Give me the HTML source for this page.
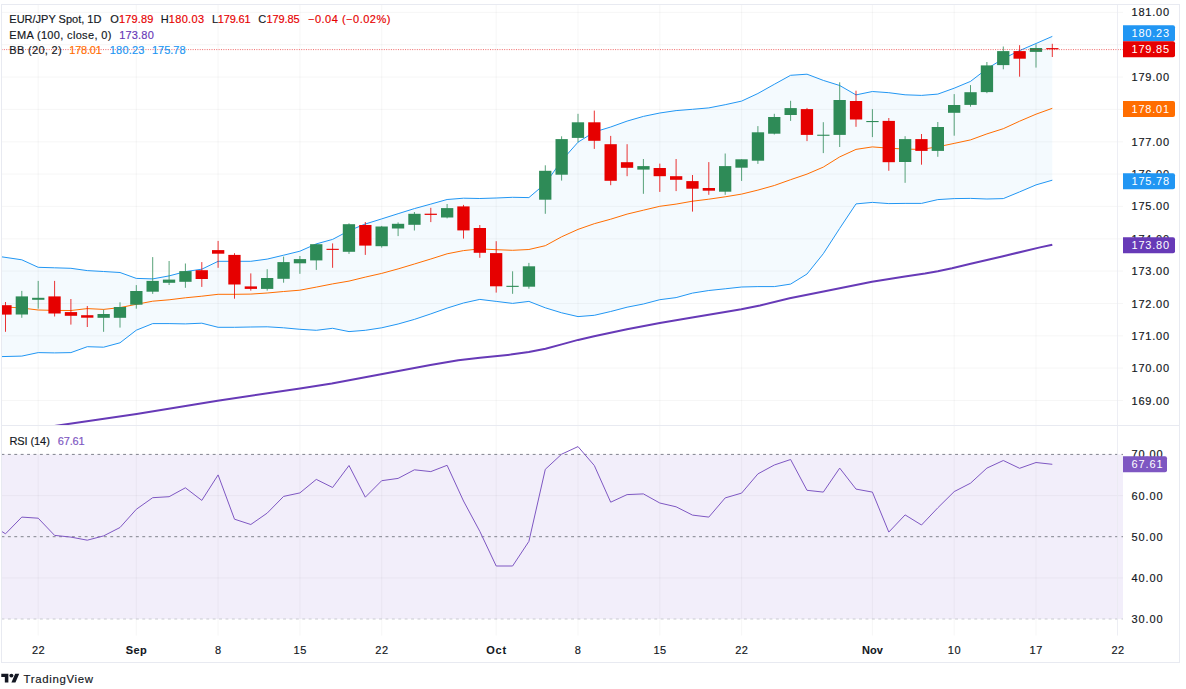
<!DOCTYPE html>
<html lang="en"><head><meta charset="utf-8"><title>EUR/JPY Spot, 1D</title>
<style>html,body{margin:0;padding:0;background:#fff;overflow:hidden}svg{display:block;font-family:"Liberation Sans",sans-serif}text{font-size:11px;fill:#131722;stroke:#131722;stroke-width:.16px}.b{font-weight:bold;stroke-width:.08px}.w{fill:#fff;stroke:none}</style></head><body>
<svg width="1186" height="689" viewBox="0 0 1186 689">
<rect width="1186" height="689" fill="#fff"/>
<defs><clipPath id="cm"><rect x="1.5" y="4.5" width="1116.0" height="421.0"/></clipPath><clipPath id="cr"><rect x="1.5" y="425.5" width="1116.0" height="210.0"/></clipPath></defs>
<rect x="1.5" y="454.4" width="1121.5" height="164.6" fill="#f2eefa"/>
<path d="M38.2 4.5V635.5M136.3 4.5V635.5M218.1 4.5V635.5M299.9 4.5V635.5M381.7 4.5V635.5M496.2 4.5V635.5M578.0 4.5V635.5M659.8 4.5V635.5M741.6 4.5V635.5M872.4 4.5V635.5M954.2 4.5V635.5M1036.0 4.5V635.5M1.5 400.5H1123M1.5 368.1H1123M1.5 335.8H1123M1.5 303.5H1123M1.5 271.1H1123M1.5 238.8H1123M1.5 206.4H1123M1.5 174.1H1123M1.5 141.8H1123M1.5 109.4H1123M1.5 77.1H1123M1.5 44.7H1123M1.5 12.4H1123M1.5 577.9H1123M1.5 495.6H1123" stroke="#2a2e39" stroke-opacity="0.045" stroke-width="1" fill="none"/>
<g clip-path="url(#cm)">
<polygon points="1.5,256.8 21.8,259.8 38.2,267.3 54.6,267.8 70.9,268.3 87.3,270.6 103.6,271.5 120.0,272.5 136.3,278.4 152.7,278.9 169.1,275.9 185.4,271.6 201.8,269.2 218.1,261.3 234.5,261.3 250.8,261.3 267.2,259.1 283.6,255.2 299.9,251.2 316.3,243.9 332.6,239.4 349.0,230.7 365.3,224.0 381.7,218.9 398.1,213.7 414.4,208.6 430.8,204.1 447.1,199.5 463.5,198.2 479.8,198.5 496.2,198.0 512.6,197.3 528.9,197.6 545.3,183.6 561.6,160.7 578.0,142.2 594.3,132.0 610.7,127.0 627.1,121.1 643.4,116.4 659.8,113.0 676.1,110.6 692.5,109.3 708.8,107.9 725.2,104.7 741.6,101.1 757.9,93.5 774.3,84.3 790.6,75.3 807.0,74.2 823.3,80.4 839.7,85.5 856.0,94.9 872.4,91.5 888.8,92.7 905.1,94.8 921.5,95.4 937.8,94.1 954.2,88.2 970.5,81.4 986.9,68.8 1003.3,58.7 1019.6,50.6 1036.0,43.5 1052.3,36.4 1052.3,180.2 1036.0,184.9 1019.6,191.9 1003.3,198.6 986.9,199.0 970.5,198.4 954.2,198.6 937.8,199.6 921.5,203.4 905.1,203.4 888.8,203.6 872.4,202.4 856.0,203.9 839.7,228.4 823.3,253.7 807.0,274.0 790.6,284.1 774.3,286.6 757.9,286.6 741.6,287.0 725.2,288.8 708.8,290.5 692.5,293.1 676.1,297.6 659.8,299.7 643.4,304.0 627.1,307.2 610.7,311.5 594.3,315.3 578.0,316.6 561.6,312.8 545.3,307.8 528.9,301.4 512.6,303.4 496.2,301.4 479.8,299.4 463.5,303.0 447.1,308.1 430.8,313.9 414.4,319.4 398.1,324.0 381.7,327.8 365.3,330.3 349.0,331.6 332.6,328.3 316.3,330.3 299.9,329.3 283.6,327.8 267.2,326.8 250.8,327.0 234.5,327.3 218.1,327.3 201.8,323.2 185.4,323.9 169.1,323.6 152.7,323.6 136.3,330.2 120.0,342.8 103.6,347.2 87.3,346.7 70.9,352.6 54.6,352.9 38.2,352.6 21.8,356.1 1.5,356.6" fill="#2196f3" fill-opacity="0.05"/>
<polyline points="1.5,306.7 21.8,308.0 38.2,310.0 54.6,310.4 70.9,310.5 87.3,308.6 103.6,309.4 120.0,307.6 136.3,304.3 152.7,301.2 169.1,299.8 185.4,297.8 201.8,296.2 218.1,294.3 234.5,294.3 250.8,294.1 267.2,293.0 283.6,291.5 299.9,290.2 316.3,287.1 332.6,283.9 349.0,281.1 365.3,277.1 381.7,273.4 398.1,268.9 414.4,264.0 430.8,259.0 447.1,253.8 463.5,250.6 479.8,248.9 496.2,249.7 512.6,250.3 528.9,249.5 545.3,245.7 561.6,236.8 578.0,229.4 594.3,223.7 610.7,219.2 627.1,214.1 643.4,210.2 659.8,206.3 676.1,204.1 692.5,201.2 708.8,199.2 725.2,196.8 741.6,194.1 757.9,190.1 774.3,185.5 790.6,179.7 807.0,174.1 823.3,167.1 839.7,156.9 856.0,149.4 872.4,146.9 888.8,148.2 905.1,149.1 921.5,149.4 937.8,146.8 954.2,143.4 970.5,139.9 986.9,133.9 1003.3,128.7 1019.6,121.2 1036.0,114.2 1052.3,108.3" fill="none" stroke="#ff6d00" stroke-width="1" stroke-linejoin="round"/>
<polyline points="1.5,256.8 21.8,259.8 38.2,267.3 54.6,267.8 70.9,268.3 87.3,270.6 103.6,271.5 120.0,272.5 136.3,278.4 152.7,278.9 169.1,275.9 185.4,271.6 201.8,269.2 218.1,261.3 234.5,261.3 250.8,261.3 267.2,259.1 283.6,255.2 299.9,251.2 316.3,243.9 332.6,239.4 349.0,230.7 365.3,224.0 381.7,218.9 398.1,213.7 414.4,208.6 430.8,204.1 447.1,199.5 463.5,198.2 479.8,198.5 496.2,198.0 512.6,197.3 528.9,197.6 545.3,183.6 561.6,160.7 578.0,142.2 594.3,132.0 610.7,127.0 627.1,121.1 643.4,116.4 659.8,113.0 676.1,110.6 692.5,109.3 708.8,107.9 725.2,104.7 741.6,101.1 757.9,93.5 774.3,84.3 790.6,75.3 807.0,74.2 823.3,80.4 839.7,85.5 856.0,94.9 872.4,91.5 888.8,92.7 905.1,94.8 921.5,95.4 937.8,94.1 954.2,88.2 970.5,81.4 986.9,68.8 1003.3,58.7 1019.6,50.6 1036.0,43.5 1052.3,36.4" fill="none" stroke="#2196f3" stroke-width="1" stroke-linejoin="round"/>
<polyline points="1.5,356.6 21.8,356.1 38.2,352.6 54.6,352.9 70.9,352.6 87.3,346.7 103.6,347.2 120.0,342.8 136.3,330.2 152.7,323.6 169.1,323.6 185.4,323.9 201.8,323.2 218.1,327.3 234.5,327.3 250.8,327.0 267.2,326.8 283.6,327.8 299.9,329.3 316.3,330.3 332.6,328.3 349.0,331.6 365.3,330.3 381.7,327.8 398.1,324.0 414.4,319.4 430.8,313.9 447.1,308.1 463.5,303.0 479.8,299.4 496.2,301.4 512.6,303.4 528.9,301.4 545.3,307.8 561.6,312.8 578.0,316.6 594.3,315.3 610.7,311.5 627.1,307.2 643.4,304.0 659.8,299.7 676.1,297.6 692.5,293.1 708.8,290.5 725.2,288.8 741.6,287.0 757.9,286.6 774.3,286.6 790.6,284.1 807.0,274.0 823.3,253.7 839.7,228.4 856.0,203.9 872.4,202.4 888.8,203.6 905.1,203.4 921.5,203.4 937.8,199.6 954.2,198.6 970.5,198.4 986.9,199.0 1003.3,198.6 1019.6,191.9 1036.0,184.9 1052.3,180.2" fill="none" stroke="#2196f3" stroke-width="1" stroke-linejoin="round"/>
<polyline points="1.5,434.0 54.4,426.0 136.6,414.1 217.6,400.7 300.0,388.5 331.8,383.5 381.1,374.3 430.4,365.0 458.3,360.2 480.0,357.8 510.6,354.6 528.8,352.0 545.5,348.7 561.7,344.4 578.1,339.9 594.1,336.3 627.0,329.3 659.8,322.9 692.2,317.6 725.1,311.9 741.3,309.3 760.0,305.5 789.6,298.3 823.5,291.6 872.0,281.7 904.9,276.5 925.0,273.5 937.8,271.2 952.0,268.2 970.7,263.8 1003.1,256.2 1040.0,247.4 1052.3,244.7" fill="none" stroke="#673ab7" stroke-width="2" stroke-linejoin="round"/>
<path d="M5.5 302.0V331.8" stroke="#e60000" stroke-width="1" stroke-opacity="0.8"/>
<rect x="-0.7" y="305.2" width="12.3" height="9.4" fill="#e60000"/>
<path d="M21.8 290.9V317.8" stroke="#2e8b57" stroke-width="1" stroke-opacity="0.8"/>
<rect x="15.7" y="296.4" width="12.3" height="18.1" fill="#2e8b57"/>
<path d="M38.2 280.9V308.7" stroke="#2e8b57" stroke-width="1" stroke-opacity="0.8"/>
<rect x="32.1" y="297.8" width="12.3" height="2.0" fill="#2e8b57"/>
<path d="M54.6 280.9V316.5" stroke="#e60000" stroke-width="1" stroke-opacity="0.8"/>
<rect x="48.4" y="296.4" width="12.3" height="17.1" fill="#e60000"/>
<path d="M70.9 299.0V324.6" stroke="#e60000" stroke-width="1" stroke-opacity="0.8"/>
<rect x="64.8" y="312.1" width="12.3" height="3.7" fill="#e60000"/>
<path d="M87.3 306.0V327.0" stroke="#e60000" stroke-width="1" stroke-opacity="0.8"/>
<rect x="81.1" y="315.2" width="12.3" height="2.5" fill="#e60000"/>
<path d="M103.6 309.6V331.8" stroke="#2e8b57" stroke-width="1" stroke-opacity="0.8"/>
<rect x="97.5" y="314.0" width="12.3" height="3.8" fill="#2e8b57"/>
<path d="M120.0 302.3V327.6" stroke="#2e8b57" stroke-width="1" stroke-opacity="0.8"/>
<rect x="113.8" y="307.0" width="12.3" height="10.8" fill="#2e8b57"/>
<path d="M136.3 285.1V308.7" stroke="#2e8b57" stroke-width="1" stroke-opacity="0.8"/>
<rect x="130.2" y="291.0" width="12.3" height="13.7" fill="#2e8b57"/>
<path d="M152.7 257.1V293.9" stroke="#2e8b57" stroke-width="1" stroke-opacity="0.8"/>
<rect x="146.5" y="280.9" width="12.3" height="10.8" fill="#2e8b57"/>
<path d="M169.1 261.0V285.0" stroke="#2e8b57" stroke-width="1" stroke-opacity="0.8"/>
<rect x="162.9" y="279.6" width="12.3" height="3.2" fill="#2e8b57"/>
<path d="M185.4 263.5V287.8" stroke="#2e8b57" stroke-width="1" stroke-opacity="0.8"/>
<rect x="179.3" y="271.1" width="12.3" height="10.7" fill="#2e8b57"/>
<path d="M201.8 262.1V286.9" stroke="#e60000" stroke-width="1" stroke-opacity="0.8"/>
<rect x="195.6" y="270.2" width="12.3" height="8.8" fill="#e60000"/>
<path d="M218.1 240.9V267.8" stroke="#e60000" stroke-width="1" stroke-opacity="0.8"/>
<rect x="212.0" y="250.1" width="12.3" height="3.6" fill="#e60000"/>
<path d="M234.5 253.2V298.7" stroke="#e60000" stroke-width="1" stroke-opacity="0.8"/>
<rect x="228.3" y="254.9" width="12.3" height="29.6" fill="#e60000"/>
<path d="M250.8 273.4V290.6" stroke="#e60000" stroke-width="1" stroke-opacity="0.8"/>
<rect x="244.7" y="286.4" width="12.3" height="2.5" fill="#e60000"/>
<path d="M267.2 269.2V290.6" stroke="#2e8b57" stroke-width="1" stroke-opacity="0.8"/>
<rect x="261.0" y="278.0" width="12.3" height="10.9" fill="#2e8b57"/>
<path d="M283.6 256.6V282.7" stroke="#2e8b57" stroke-width="1" stroke-opacity="0.8"/>
<rect x="277.4" y="262.1" width="12.3" height="16.7" fill="#2e8b57"/>
<path d="M299.9 256.0V273.8" stroke="#2e8b57" stroke-width="1" stroke-opacity="0.8"/>
<rect x="293.8" y="259.1" width="12.3" height="4.2" fill="#2e8b57"/>
<path d="M316.3 243.9V269.9" stroke="#2e8b57" stroke-width="1" stroke-opacity="0.8"/>
<rect x="310.1" y="244.2" width="12.3" height="16.2" fill="#2e8b57"/>
<path d="M332.6 243.4V267.8" stroke="#e60000" stroke-width="1" stroke-opacity="0.8"/>
<rect x="326.5" y="248.8" width="12.3" height="1.1" fill="#e60000"/>
<path d="M349.0 223.3V253.9" stroke="#2e8b57" stroke-width="1" stroke-opacity="0.8"/>
<rect x="342.8" y="224.2" width="12.3" height="27.6" fill="#2e8b57"/>
<path d="M365.3 222.0V254.9" stroke="#e60000" stroke-width="1" stroke-opacity="0.8"/>
<rect x="359.2" y="225.0" width="12.3" height="20.6" fill="#e60000"/>
<path d="M381.7 225.9V247.6" stroke="#2e8b57" stroke-width="1" stroke-opacity="0.8"/>
<rect x="375.5" y="226.5" width="12.3" height="19.7" fill="#2e8b57"/>
<path d="M398.1 222.4V236.1" stroke="#2e8b57" stroke-width="1" stroke-opacity="0.8"/>
<rect x="391.9" y="223.8" width="12.3" height="4.7" fill="#2e8b57"/>
<path d="M414.4 212.0V230.5" stroke="#2e8b57" stroke-width="1" stroke-opacity="0.8"/>
<rect x="408.3" y="213.8" width="12.3" height="11.0" fill="#2e8b57"/>
<path d="M430.8 207.8V222.1" stroke="#e60000" stroke-width="1" stroke-opacity="0.8"/>
<rect x="424.6" y="213.7" width="12.3" height="1.2" fill="#e60000"/>
<path d="M447.1 204.0V218.4" stroke="#2e8b57" stroke-width="1" stroke-opacity="0.8"/>
<rect x="441.0" y="208.1" width="12.3" height="9.4" fill="#2e8b57"/>
<path d="M463.5 204.9V238.6" stroke="#e60000" stroke-width="1" stroke-opacity="0.8"/>
<rect x="457.3" y="206.4" width="12.3" height="24.0" fill="#e60000"/>
<path d="M479.8 225.0V257.8" stroke="#e60000" stroke-width="1" stroke-opacity="0.8"/>
<rect x="473.7" y="228.0" width="12.3" height="24.8" fill="#e60000"/>
<path d="M496.2 241.2V292.6" stroke="#e60000" stroke-width="1" stroke-opacity="0.8"/>
<rect x="490.0" y="253.1" width="12.3" height="33.2" fill="#e60000"/>
<path d="M512.6 271.3V293.8" stroke="#2e8b57" stroke-width="1" stroke-opacity="0.8"/>
<rect x="506.4" y="285.8" width="12.3" height="1.1" fill="#2e8b57"/>
<path d="M528.9 262.9V288.7" stroke="#2e8b57" stroke-width="1" stroke-opacity="0.8"/>
<rect x="522.8" y="266.3" width="12.3" height="20.4" fill="#2e8b57"/>
<path d="M545.3 165.3V213.8" stroke="#2e8b57" stroke-width="1" stroke-opacity="0.8"/>
<rect x="539.1" y="170.8" width="12.3" height="28.9" fill="#2e8b57"/>
<path d="M561.6 136.3V180.6" stroke="#2e8b57" stroke-width="1" stroke-opacity="0.8"/>
<rect x="555.5" y="139.1" width="12.3" height="35.6" fill="#2e8b57"/>
<path d="M578.0 113.8V142.2" stroke="#2e8b57" stroke-width="1" stroke-opacity="0.8"/>
<rect x="571.8" y="122.3" width="12.3" height="15.6" fill="#2e8b57"/>
<path d="M594.3 110.6V148.9" stroke="#e60000" stroke-width="1" stroke-opacity="0.8"/>
<rect x="588.2" y="122.3" width="12.3" height="18.5" fill="#e60000"/>
<path d="M610.7 135.9V185.2" stroke="#e60000" stroke-width="1" stroke-opacity="0.8"/>
<rect x="604.5" y="144.2" width="12.3" height="36.6" fill="#e60000"/>
<path d="M627.1 144.2V176.2" stroke="#e60000" stroke-width="1" stroke-opacity="0.8"/>
<rect x="620.9" y="162.2" width="12.3" height="5.6" fill="#e60000"/>
<path d="M643.4 159.0V193.8" stroke="#2e8b57" stroke-width="1" stroke-opacity="0.8"/>
<rect x="637.3" y="166.1" width="12.3" height="3.5" fill="#2e8b57"/>
<path d="M659.8 163.6V191.9" stroke="#e60000" stroke-width="1" stroke-opacity="0.8"/>
<rect x="653.6" y="168.0" width="12.3" height="8.2" fill="#e60000"/>
<path d="M676.1 159.0V191.1" stroke="#e60000" stroke-width="1" stroke-opacity="0.8"/>
<rect x="670.0" y="176.2" width="12.3" height="3.6" fill="#e60000"/>
<path d="M692.5 175.0V211.6" stroke="#e60000" stroke-width="1" stroke-opacity="0.8"/>
<rect x="686.3" y="181.1" width="12.3" height="7.6" fill="#e60000"/>
<path d="M708.8 162.1V194.8" stroke="#e60000" stroke-width="1" stroke-opacity="0.8"/>
<rect x="702.7" y="188.0" width="12.3" height="2.7" fill="#e60000"/>
<path d="M725.2 153.5V194.8" stroke="#2e8b57" stroke-width="1" stroke-opacity="0.8"/>
<rect x="719.0" y="166.1" width="12.3" height="25.6" fill="#2e8b57"/>
<path d="M741.6 159.3V180.9" stroke="#2e8b57" stroke-width="1" stroke-opacity="0.8"/>
<rect x="735.4" y="159.3" width="12.3" height="8.4" fill="#2e8b57"/>
<path d="M757.9 126.1V163.9" stroke="#2e8b57" stroke-width="1" stroke-opacity="0.8"/>
<rect x="751.8" y="132.3" width="12.3" height="28.4" fill="#2e8b57"/>
<path d="M774.3 113.8V134.5" stroke="#2e8b57" stroke-width="1" stroke-opacity="0.8"/>
<rect x="768.1" y="117.0" width="12.3" height="16.7" fill="#2e8b57"/>
<path d="M790.6 100.8V120.9" stroke="#2e8b57" stroke-width="1" stroke-opacity="0.8"/>
<rect x="784.5" y="108.1" width="12.3" height="6.9" fill="#2e8b57"/>
<path d="M807.0 107.9V141.1" stroke="#e60000" stroke-width="1" stroke-opacity="0.8"/>
<rect x="800.8" y="109.1" width="12.3" height="25.8" fill="#e60000"/>
<path d="M823.3 122.2V153.1" stroke="#2e8b57" stroke-width="1" stroke-opacity="0.8"/>
<rect x="817.2" y="134.7" width="12.3" height="1.1" fill="#2e8b57"/>
<path d="M839.7 82.3V147.0" stroke="#2e8b57" stroke-width="1" stroke-opacity="0.8"/>
<rect x="833.5" y="100.0" width="12.3" height="34.9" fill="#2e8b57"/>
<path d="M856.0 90.7V126.8" stroke="#e60000" stroke-width="1" stroke-opacity="0.8"/>
<rect x="849.9" y="101.0" width="12.3" height="18.5" fill="#e60000"/>
<path d="M872.4 109.2V137.1" stroke="#2e8b57" stroke-width="1" stroke-opacity="0.8"/>
<rect x="866.3" y="121.0" width="12.3" height="1.1" fill="#2e8b57"/>
<path d="M888.8 118.0V170.8" stroke="#e60000" stroke-width="1" stroke-opacity="0.8"/>
<rect x="882.6" y="120.9" width="12.3" height="41.3" fill="#e60000"/>
<path d="M905.1 136.2V182.8" stroke="#2e8b57" stroke-width="1" stroke-opacity="0.8"/>
<rect x="899.0" y="139.1" width="12.3" height="22.9" fill="#2e8b57"/>
<path d="M921.5 134.0V164.7" stroke="#e60000" stroke-width="1" stroke-opacity="0.8"/>
<rect x="915.3" y="139.1" width="12.3" height="11.8" fill="#e60000"/>
<path d="M937.8 122.0V156.8" stroke="#2e8b57" stroke-width="1" stroke-opacity="0.8"/>
<rect x="931.7" y="127.0" width="12.3" height="23.9" fill="#2e8b57"/>
<path d="M954.2 94.1V135.7" stroke="#2e8b57" stroke-width="1" stroke-opacity="0.8"/>
<rect x="948.0" y="105.0" width="12.3" height="7.8" fill="#2e8b57"/>
<path d="M970.5 85.1V106.7" stroke="#2e8b57" stroke-width="1" stroke-opacity="0.8"/>
<rect x="964.4" y="92.2" width="12.3" height="12.7" fill="#2e8b57"/>
<path d="M986.9 62.0V93.2" stroke="#2e8b57" stroke-width="1" stroke-opacity="0.8"/>
<rect x="980.8" y="65.4" width="12.3" height="26.7" fill="#2e8b57"/>
<path d="M1003.3 46.5V69.3" stroke="#2e8b57" stroke-width="1" stroke-opacity="0.8"/>
<rect x="997.1" y="51.1" width="12.3" height="14.0" fill="#2e8b57"/>
<path d="M1019.6 45.2V76.7" stroke="#e60000" stroke-width="1" stroke-opacity="0.8"/>
<rect x="1013.5" y="51.1" width="12.3" height="7.6" fill="#e60000"/>
<path d="M1036.0 44.3V67.6" stroke="#2e8b57" stroke-width="1" stroke-opacity="0.8"/>
<rect x="1029.8" y="48.0" width="12.3" height="3.9" fill="#2e8b57"/>
<path d="M1052.3 43.8V57.0" stroke="#e60000" stroke-width="1" stroke-opacity="0.8"/>
<rect x="1046.2" y="48.1" width="12.3" height="1.2" fill="#e60000"/>
</g>
<path d="M1.5 49.6H1123" stroke="#e60000" stroke-width="1" stroke-dasharray="1 1.36" stroke-opacity="0.6" fill="none"/>
<path d="M1.5 454.4H1123" stroke="#80838d" stroke-width="1" stroke-dasharray="2.9 3.5" fill="none"/>
<path d="M1.5 536.7H1123" stroke="#80838d" stroke-width="1" stroke-dasharray="2.9 3.5" fill="none"/>
<path d="M1.5 619.0H1123" stroke="#c9cbd1" stroke-width="1" stroke-dasharray="2.9 3.5" fill="none"/>
<g clip-path="url(#cr)"><polyline points="1.5,531.3 5.5,533.8 21.8,517.1 38.2,518.2 54.6,535.4 70.9,537.1 87.3,540.2 103.6,535.9 120.0,527.5 136.3,509.3 152.7,497.7 169.1,496.7 185.4,487.8 201.8,500.4 218.1,474.9 234.5,519.2 250.8,524.5 267.2,513.1 283.6,496.4 299.9,492.9 316.3,479.4 332.6,487.5 349.0,465.5 365.3,497.2 381.7,480.7 398.1,478.4 414.4,469.8 430.8,471.6 447.1,465.3 463.5,501.0 479.8,531.3 496.2,566.0 512.6,566.0 528.9,541.4 545.3,469.3 561.6,454.2 578.0,446.6 594.3,465.5 610.7,502.2 627.1,494.6 643.4,493.9 659.8,503.0 676.1,506.8 692.5,515.1 708.8,517.1 725.2,497.9 741.6,493.1 757.9,473.9 774.3,465.0 790.6,459.5 807.0,490.3 823.3,492.1 839.7,468.1 856.0,489.1 872.4,492.1 888.8,532.1 905.1,514.9 921.5,525.0 937.8,507.8 954.2,491.6 970.5,483.2 986.9,468.1 1003.3,460.5 1019.6,468.3 1036.0,462.5 1052.3,464.3" fill="none" stroke="#7e57c2" stroke-width="1" stroke-linejoin="round"/></g>
<path d="M1117.5 4.5V635.5" stroke="#e8eaf1" stroke-opacity="0.8" stroke-width="1" fill="none"/>
<path d="M1.5 425.5H1179.5" stroke="#e8eaf1" stroke-width="1.2" fill="none"/>
<rect x="1.5" y="4.5" width="1178.0" height="658.0" fill="none" stroke="#e8eaf1" stroke-width="1"/>
<text x="1131.5" y="404.5" textLength="37.5" lengthAdjust="spacing">169.00</text>
<text x="1131.5" y="372.1" textLength="37.5" lengthAdjust="spacing">170.00</text>
<text x="1131.5" y="339.8" textLength="37.5" lengthAdjust="spacing">171.00</text>
<text x="1131.5" y="307.5" textLength="37.5" lengthAdjust="spacing">172.00</text>
<text x="1131.5" y="275.1" textLength="37.5" lengthAdjust="spacing">173.00</text>
<text x="1131.5" y="242.8" textLength="37.5" lengthAdjust="spacing">174.00</text>
<text x="1131.5" y="210.4" textLength="37.5" lengthAdjust="spacing">175.00</text>
<text x="1131.5" y="178.1" textLength="37.5" lengthAdjust="spacing">176.00</text>
<text x="1131.5" y="145.8" textLength="37.5" lengthAdjust="spacing">177.00</text>
<text x="1131.5" y="113.4" textLength="37.5" lengthAdjust="spacing">178.00</text>
<text x="1131.5" y="81.1" textLength="37.5" lengthAdjust="spacing">179.00</text>
<text x="1131.5" y="16.4" textLength="37.5" lengthAdjust="spacing">181.00</text>
<text x="1131.5" y="623.0" textLength="31" lengthAdjust="spacing">30.00</text>
<text x="1131.5" y="581.9" textLength="31" lengthAdjust="spacing">40.00</text>
<text x="1131.5" y="540.7" textLength="31" lengthAdjust="spacing">50.00</text>
<text x="1131.5" y="499.6" textLength="31" lengthAdjust="spacing">60.00</text>
<text x="1131.5" y="458.4" textLength="31" lengthAdjust="spacing">70.00</text>
<path d="M1123 25.2H1173a2 2 0 0 1 2 2V39.2a2 2 0 0 1 -2 2H1123Z" fill="#2196f3"/>
<text x="1131.5" y="37.2" textLength="37.5" lengthAdjust="spacing" class="w">180.23</text>
<path d="M1123 41.2H1173a2 2 0 0 1 2 2V55.2a2 2 0 0 1 -2 2H1123Z" fill="#e60000"/>
<text x="1131.5" y="53.2" textLength="37.5" lengthAdjust="spacing" class="w">179.85</text>
<path d="M1123 101.1H1173a2 2 0 0 1 2 2V115.1a2 2 0 0 1 -2 2H1123Z" fill="#ff6d00"/>
<text x="1131.5" y="113.1" textLength="37.5" lengthAdjust="spacing" class="w">178.01</text>
<path d="M1123 173.2H1173a2 2 0 0 1 2 2V187.2a2 2 0 0 1 -2 2H1123Z" fill="#2196f3"/>
<text x="1131.5" y="185.2" textLength="37.5" lengthAdjust="spacing" class="w">175.78</text>
<path d="M1123 237.2H1173a2 2 0 0 1 2 2V251.2a2 2 0 0 1 -2 2H1123Z" fill="#673ab7"/>
<text x="1131.5" y="249.2" textLength="37.5" lengthAdjust="spacing" class="w">173.80</text>
<path d="M1123 456.2H1165a2 2 0 0 1 2 2V470.2a2 2 0 0 1 -2 2H1123Z" fill="#7e57c2"/>
<text x="1131.5" y="468.2" textLength="31" lengthAdjust="spacing" class="w">67.61</text>
<text x="31.9" y="654.2" textLength="12.7" lengthAdjust="spacing">22</text>
<text x="125.8" y="654.2" textLength="21" lengthAdjust="spacing" class="b">Sep</text>
<text x="215.0" y="654.2" textLength="6.3" lengthAdjust="spacing">8</text>
<text x="293.6" y="654.2" textLength="12.7" lengthAdjust="spacing">15</text>
<text x="375.3" y="654.2" textLength="12.7" lengthAdjust="spacing">22</text>
<text x="486.2" y="654.2" textLength="20" lengthAdjust="spacing" class="b">Oct</text>
<text x="574.8" y="654.2" textLength="6.3" lengthAdjust="spacing">8</text>
<text x="653.4" y="654.2" textLength="12.7" lengthAdjust="spacing">15</text>
<text x="735.2" y="654.2" textLength="12.7" lengthAdjust="spacing">22</text>
<text x="861.9" y="654.2" textLength="21" lengthAdjust="spacing" class="b">Nov</text>
<text x="947.8" y="654.2" textLength="12.7" lengthAdjust="spacing">10</text>
<text x="1029.6" y="654.2" textLength="12.7" lengthAdjust="spacing">17</text>
<text x="1111.4" y="654.2" textLength="12.7" lengthAdjust="spacing">22</text>
<text x="9.3" y="22.7" textLength="92.1" lengthAdjust="spacing">EUR/JPY Spot, 1D</text>
<text x="110.2" y="22.7" textLength="7.8" lengthAdjust="spacing">O</text>
<text x="118.9" y="22.7" textLength="34.5" lengthAdjust="spacing" style="fill:#e60000;stroke:#e60000">179.89</text>
<text x="160.8" y="22.7" textLength="7.0" lengthAdjust="spacing">H</text>
<text x="168.8" y="22.7" textLength="35.2" lengthAdjust="spacing" style="fill:#e60000;stroke:#e60000">180.03</text>
<text x="212.0" y="22.7" textLength="4.7" lengthAdjust="spacing">L</text>
<text x="217.7" y="22.7" textLength="32.9" lengthAdjust="spacing" style="fill:#e60000;stroke:#e60000">179.61</text>
<text x="258.2" y="22.7" textLength="7.6" lengthAdjust="spacing">C</text>
<text x="266.6" y="22.7" textLength="32.9" lengthAdjust="spacing" style="fill:#e60000;stroke:#e60000">179.85</text>
<text x="308.0" y="22.7" textLength="82.4" lengthAdjust="spacing" style="fill:#e60000;stroke:#e60000">−0.04 (−0.02%)</text>
<text x="9.3" y="38.6" textLength="102.0" lengthAdjust="spacing">EMA (100, close, 0)</text>
<text x="119.2" y="38.6" textLength="34.6" lengthAdjust="spacing" style="fill:#673ab7;stroke:#673ab7">173.80</text>
<text x="9.3" y="54.4" textLength="52.4" lengthAdjust="spacing">BB (20, 2)</text>
<text x="69.3" y="54.4" textLength="32.6" lengthAdjust="spacing" style="fill:#ff6d00;stroke:#ff6d00">178.01</text>
<text x="109.8" y="54.4" textLength="34.6" lengthAdjust="spacing" style="fill:#2196f3;stroke:#2196f3">180.23</text>
<text x="152.0" y="54.4" textLength="33.5" lengthAdjust="spacing" style="fill:#2196f3;stroke:#2196f3">175.78</text>
<text x="9.4" y="444.7" textLength="40.4" lengthAdjust="spacing">RSI (14)</text>
<text x="57.8" y="444.7" textLength="26.8" lengthAdjust="spacing" style="fill:#7e57c2;stroke:#7e57c2">67.61</text>
<g transform="translate(1.3,671.7) scale(0.505,0.49)" fill="#131722"><path d="M14 22H7V11H0V4h14v18zM28 22h-8l7.5-18h8L28 22z"/><circle cx="20" cy="8" r="4"/></g>
<text x="23.6" y="682.6" textLength="69.3" lengthAdjust="spacing" style="font-size:11.4px">TradingView</text>
</svg></body></html>
